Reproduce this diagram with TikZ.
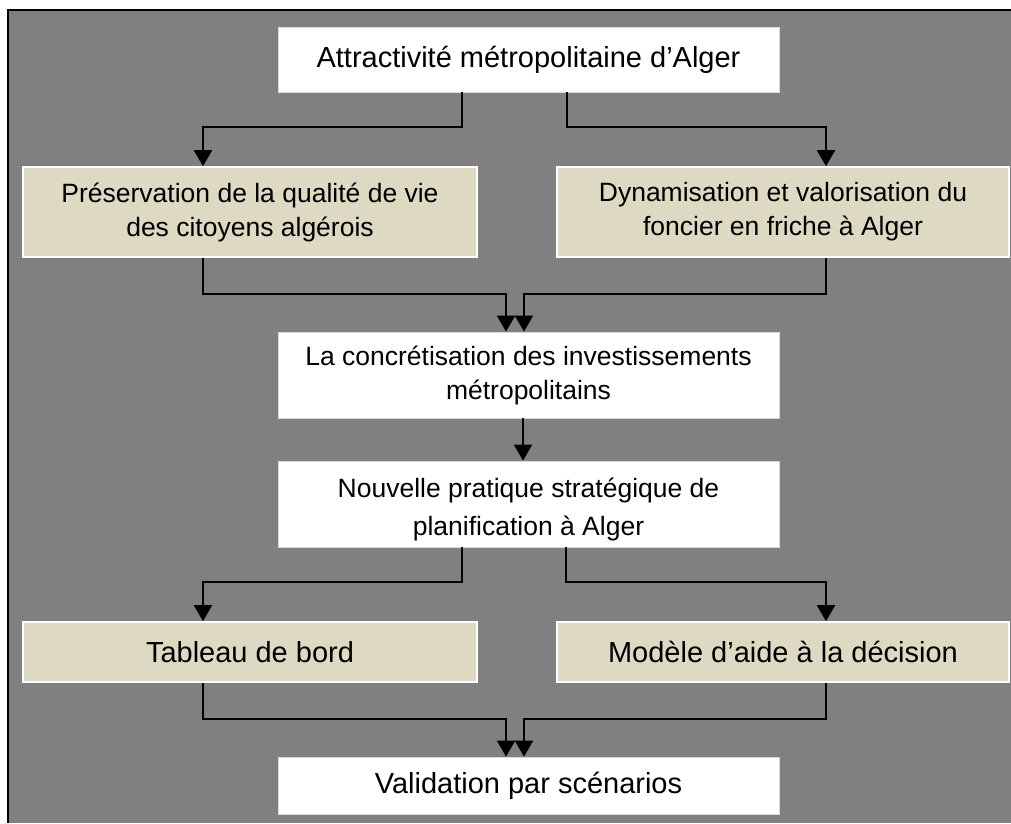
\documentclass[tikz,border=0pt]{standalone}
\usepackage{fontspec}
\setmainfont{Liberation Sans}
\usetikzlibrary{calc,arrows.meta}
\definecolor{fondgris}{HTML}{808080}
\definecolor{beige}{HTML}{DDD9C3}
\tikzset{
  boiteblanche/.style={draw=black!15, line width=0.8pt, fill=white, inner sep=0pt, align=center, minimum width=501pt},
  boitebeige/.style={draw=white, line width=1.6pt, fill=beige, inner sep=0pt, align=center, minimum width=452pt},
  grand/.style={font=\fontsize{29}{34}\selectfont},
  petit/.style={font=\fontsize{26.5}{34}\selectfont},
  fleche/.style={line width=2pt, -{Triangle[width=18pt,length=16pt]}},
}
\begin{document}
\begin{tikzpicture}[x=1pt,y=-1pt]
			%%%%% FOND %%%%%
			\useasboundingbox (0,0) rectangle (1011,823);
			\fill[fondgris] (8,10) rectangle (1011,823);
			\draw[line width=1.6pt] (8,823) -- (8,10) -- (1011,10);
			
			%%%%% BOITES %%%%%
			\node[boiteblanche, grand, minimum height=65pt] (attract) at (528.5,59.5) {Attractivit\'e m\'etropolitaine d'Alger};
			
			\node[boitebeige, petit, minimum width=454pt, minimum height=90pt] (qualite) at (250,212) {Pr\'eservation de la qualit\'e de vie\\des citoyens alg\'erois};
			\node[boitebeige, petit, minimum height=90pt] (foncier) at (783,212) {Dynamisation et valorisation du\\foncier en friche \`a Alger};
			
			\node[boiteblanche, petit, minimum height=86pt] (invest) at (528.5,375) {La concr\'etisation des investissements\\m\'etropolitains};
			\node[boiteblanche, petit, minimum height=86pt] (pratique) at (528.5,504) {\rule{0pt}{30pt}Nouvelle pratique strat\'egique de\\[4pt]planification \`a Alger};
			
			\node[boitebeige, grand, minimum width=454pt, minimum height=60pt] (tableau) at (250,652) {Tableau de bord};
			\node[boitebeige, grand, minimum height=60pt] (modele) at (783,652) {Mod\`ele d'aide \`a la d\'ecision};
			
			\node[boiteblanche, grand, minimum height=57pt] (scenarios) at (528.5,785.5) {Validation par sc\'enarios};
			
			%%%%% FLECHES %%%%%
			\draw[fleche] ($(attract.south)+(-66.5,0)$) -- ++(0,35) -| ($(qualite.north)+(-47,0)$);
			\draw[fleche] ($(attract.south)+(38.5,0)$) -- ++(0,35) -| ($(foncier.north)+(43,0)$);
			
			\draw[fleche] ($(qualite.south)+(-47,0)$) -- ++(0,36) -| ($(invest.north)+(-22.5,0)$);
			\draw[fleche] ($(foncier.south)+(43,0)$) -- ++(0,36) -| ($(invest.north)+(-4.5,0)$);
			
			\draw[fleche] ($(invest.south)+(-5.5,0)$) -- ($(pratique.north)+(-5.5,0)$);
			
			\draw[fleche] ($(pratique.south)+(-66.5,0)$) -- ++(0,35) -| ($(tableau.north)+(-47,0)$);
			\draw[fleche] ($(pratique.south)+(37.5,0)$) -- ++(0,35) -| ($(modele.north)+(43,0)$);
			
			\draw[fleche] ($(tableau.south)+(-47,0)$) -- ++(0,36) -| ($(scenarios.north)+(-22.5,0)$);
			\draw[fleche] ($(modele.south)+(43,0)$) -- ++(0,36) -| ($(scenarios.north)+(-4.5,0)$);
\end{tikzpicture}
\end{document}
